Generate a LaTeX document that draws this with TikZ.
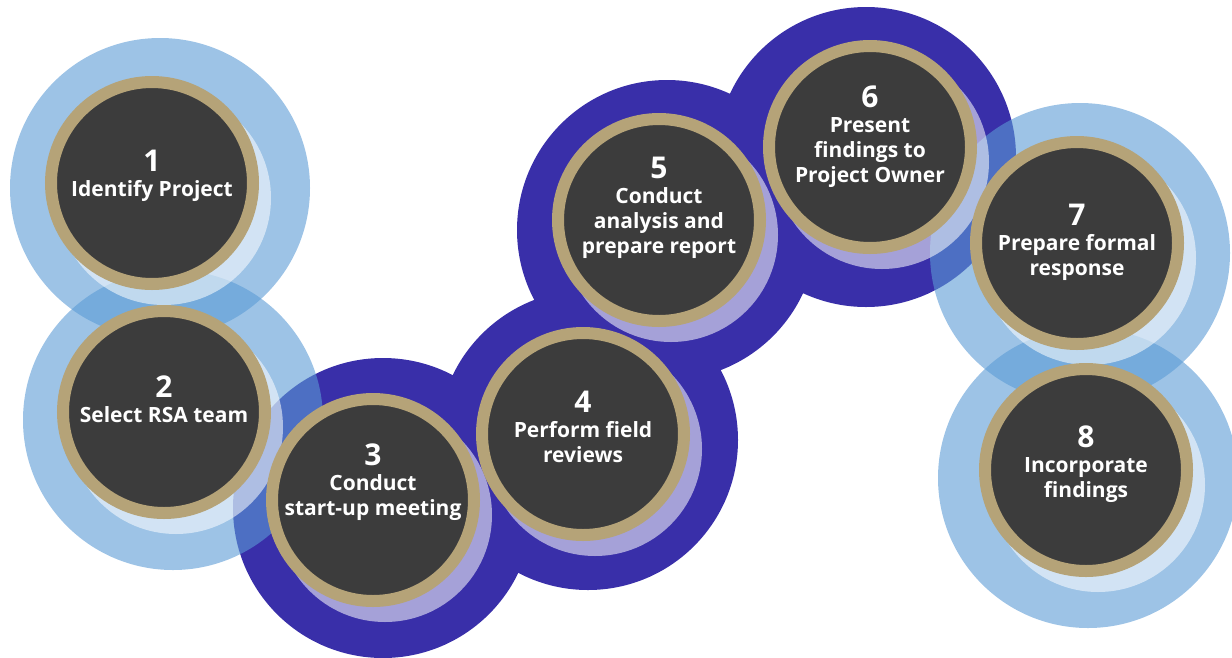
\documentclass[tikz,border=0pt]{standalone}
\usepackage{fontspec}
\setmainfont{Open Sans}
\usepackage{tikz}
\usetikzlibrary{positioning}

\definecolor{ringlight}{HTML}{5B9BD5}
\definecolor{ringdark}{HTML}{392FA9}
\definecolor{ringtan}{HTML}{B5A378}
\definecolor{stepgray}{HTML}{3C3C3C}
\tikzset{
	lightring/.style={fill=ringlight, fill opacity=0.6},
	darkring/.style={fill=ringdark},
	glow/.style={fill=white, fill opacity=0.55},
	stepcirc/.style={circle, fill=stepgray, draw=ringtan, line width=12pt, minimum size=202pt, inner sep=0pt},
	steptext/.style={text=white, font=\bfseries\fontsize{21}{25}\selectfont, align=center, inner sep=0pt, anchor=north}
}
\newcommand{\stepnum}[1]{{\fontsize{30}{30}\selectfont #1}}

\begin{document}
\begin{tikzpicture}[x=1pt, y=-1pt]
	\clip (0,0) rectangle (1232,657);
	\foreach \ox/\oy in {383/508, 588/440, 667/230, 866/157}
		\fill[darkring] (\ox,\oy) circle (150);
	\foreach \ox/\oy in {160/188, 173/420, 1080/253, 1088/478}
		\fill[lightring] (\ox,\oy) circle (150);
	\foreach \x/\y in {152/183, 164/412, 373/500, 583/434, 659/220, 870/147, 1077/243, 1086/470}
		\fill[glow] (\x+12,\y+15) circle (107);
	\foreach \n/\x/\y/\up/\txt in {1/152/183/33/{Identify Project}, 2/164/412/36/{Select RSA team},
		3/373/500/56/{Conduct\\start-up meeting}, 4/583/434/43/{Perform field\\reviews},
		5/659/220/63/{Conduct\\analysis and\\prepare report}, 6/870/147/61/{Present\\findings to\\Project Owner},
		7/1077/243/39/{Prepare formal\\response}, 8/1086/470/44/{Incorporate\\findings}}{
		\node[stepcirc] (s\n) at (\x,\y) {};
		\node[steptext] (t\n) at ([yshift=\up pt]s\n.center) {\stepnum{\n}\\\txt};
	}
\end{tikzpicture}
\end{document}
